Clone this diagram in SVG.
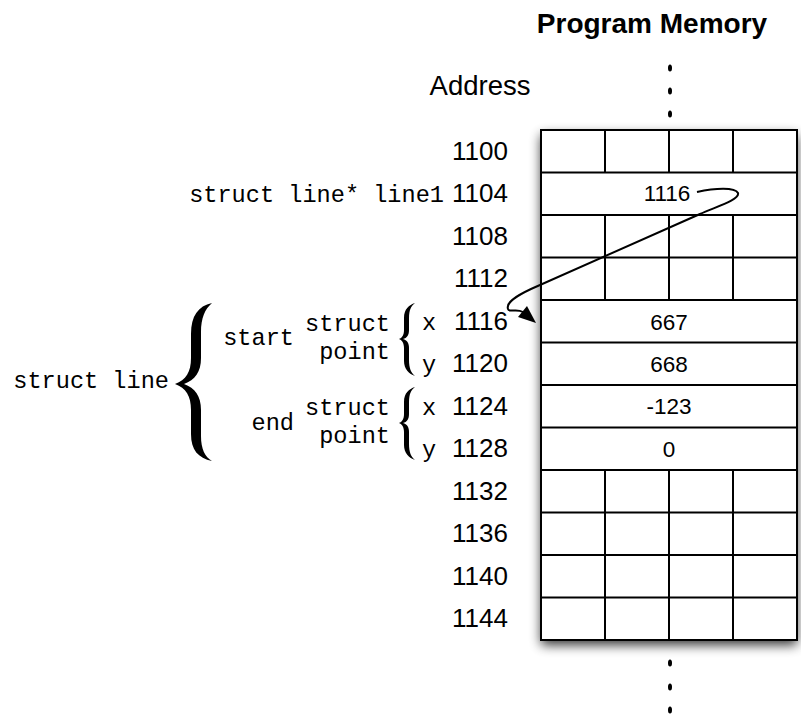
<svg xmlns="http://www.w3.org/2000/svg" width="801" height="719" viewBox="0 0 801 719">
<defs>
<style>
.sans{font-family:"Liberation Sans",Arial,Helvetica,sans-serif;fill:#000}
.addr{font-size:26px;text-anchor:end}
.val{font-size:22.5px;text-anchor:middle}
.mono{font-family:"Liberation Mono","Courier New",monospace;font-size:23.6px;fill:#000}
.grid{stroke:#000;stroke-width:2;fill:none}
.dot{fill:#000}
</style>
<filter id="shadow" x="-20%" y="-20%" width="140%" height="140%">
<feGaussianBlur in="SourceAlpha" stdDeviation="6"/>
<feOffset dx="0" dy="5" result="b"/>
<feComponentTransfer><feFuncA type="linear" slope="0.8"/></feComponentTransfer>
<feMerge><feMergeNode/><feMergeNode in="SourceGraphic"/></feMerge>
</filter>
</defs>
<rect width="801" height="719" fill="#fff"/>

<g id="title">
<text class="sans" x="652" y="33" font-size="28" font-weight="bold" text-anchor="middle">Program Memory</text>
<text class="sans" x="480" y="95" font-size="27.5" text-anchor="middle">Address</text>
</g>

<g id="dots">
<ellipse class="dot" cx="670" cy="68" rx="2" ry="3.6"/>
<ellipse class="dot" cx="670" cy="91" rx="2" ry="3.6"/>
<ellipse class="dot" cx="670" cy="114" rx="2" ry="3.6"/>
<ellipse class="dot" cx="670" cy="663" rx="2" ry="3.6"/>
<ellipse class="dot" cx="670" cy="687" rx="2" ry="3.6"/>
<ellipse class="dot" cx="670" cy="710" rx="2" ry="3.6"/>
</g>

<g id="memory">
<rect x="541" y="130" width="256" height="510" fill="#fff" filter="url(#shadow)"/>
<rect class="grid" x="541" y="130" width="256" height="510"/>
<path class="grid" d="M541 172.5H797M541 215H797M541 257.5H797M541 300H797M541 342.5H797M541 385H797M541 427.5H797M541 470H797M541 512.5H797M541 555H797M541 597.5H797"/>
<path class="grid" d="M605 130V172.5M669 130V172.5M733 130V172.5M605 215V300M669 215V300M733 215V300M605 470V640M669 470V640M733 470V640"/>
<text class="sans val" x="667" y="201">1116</text>
<text class="sans val" x="669" y="330">667</text>
<text class="sans val" x="669" y="372">668</text>
<text class="sans val" x="669" y="414">-123</text>
<text class="sans val" x="669" y="457">0</text>
</g>

<g id="addresses">
<text class="sans addr" x="508" y="159.5">1100</text>
<text class="sans addr" x="508" y="202">1104</text>
<text class="sans addr" x="508" y="244.5">1108</text>
<text class="sans addr" x="508" y="287">1112</text>
<text class="sans addr" x="508" y="329.5">1116</text>
<text class="sans addr" x="508" y="372">1120</text>
<text class="sans addr" x="508" y="414.5">1124</text>
<text class="sans addr" x="508" y="457">1128</text>
<text class="sans addr" x="508" y="499.5">1132</text>
<text class="sans addr" x="508" y="542">1136</text>
<text class="sans addr" x="508" y="584.5">1140</text>
<text class="sans addr" x="508" y="627">1144</text>
</g>

<g id="labels">
<text class="mono" x="444" y="202" text-anchor="end">struct line* line1</text>
<text class="mono" x="169" y="388" text-anchor="end">struct line</text>
<text class="mono" x="294" y="345" text-anchor="end">start</text>
<text class="mono" x="294" y="430" text-anchor="end">end</text>
<text class="mono" x="390" y="331" text-anchor="end">struct</text>
<text class="mono" x="390" y="359" text-anchor="end">point</text>
<text class="mono" x="390" y="415" text-anchor="end">struct</text>
<text class="mono" x="390" y="443" text-anchor="end">point</text>
<text class="mono" x="422" y="329.5">x</text>
<text class="mono" x="422" y="372">y</text>
<text class="mono" x="422" y="414.5">x</text>
<text class="mono" x="422" y="457">y</text>
</g>

<g id="braces" fill="#000">
<path d="M212,303 C198,306 191,316 191,334 L191,358 C191,372 186,380 175,384 C186,388 191,396 191,410 L191,434 C191,450 198,458 212,461 C205,457 201,449 201,436 L201,410 C201,396 195,388 184,384 C195,380 201,372 201,358 L201,332 C201,318 205,309 212,303 Z"/>
<path d="M415,303 C409,305 404,309 404,318 L404,330 C404,335 402,338 399,339 C402,340 404,343 404,348 L404,361 C404,369 409,374 415,376 C411,373 409,368 409,360 L409,348 C409,343 407,340 403,339 C407,338 409,335 409,330 L409,318 C409,310 411,306 415,303 Z"/>
<path d="M415,387 C409,389 404,393 404,402 L404,414 C404,419 402,422 399,423 C402,424 404,427 404,432 L404,445 C404,453 409,458 415,460 C411,457 409,452 409,444 L409,432 C409,427 407,424 403,423 C407,422 409,419 409,414 L409,402 C409,394 411,390 415,387 Z"/>
</g>

<g id="connectors">
<path d="M697,192 C715,188 735,187 738,193 C740,200 715,207 700,214 L531,289 C514,297 506,303 508,309 C509,313 516,308 523,312" fill="none" stroke="#000" stroke-width="2"/>
<polygon points="536,323 518,317 527,306" fill="#000"/>
</g>
</svg>
